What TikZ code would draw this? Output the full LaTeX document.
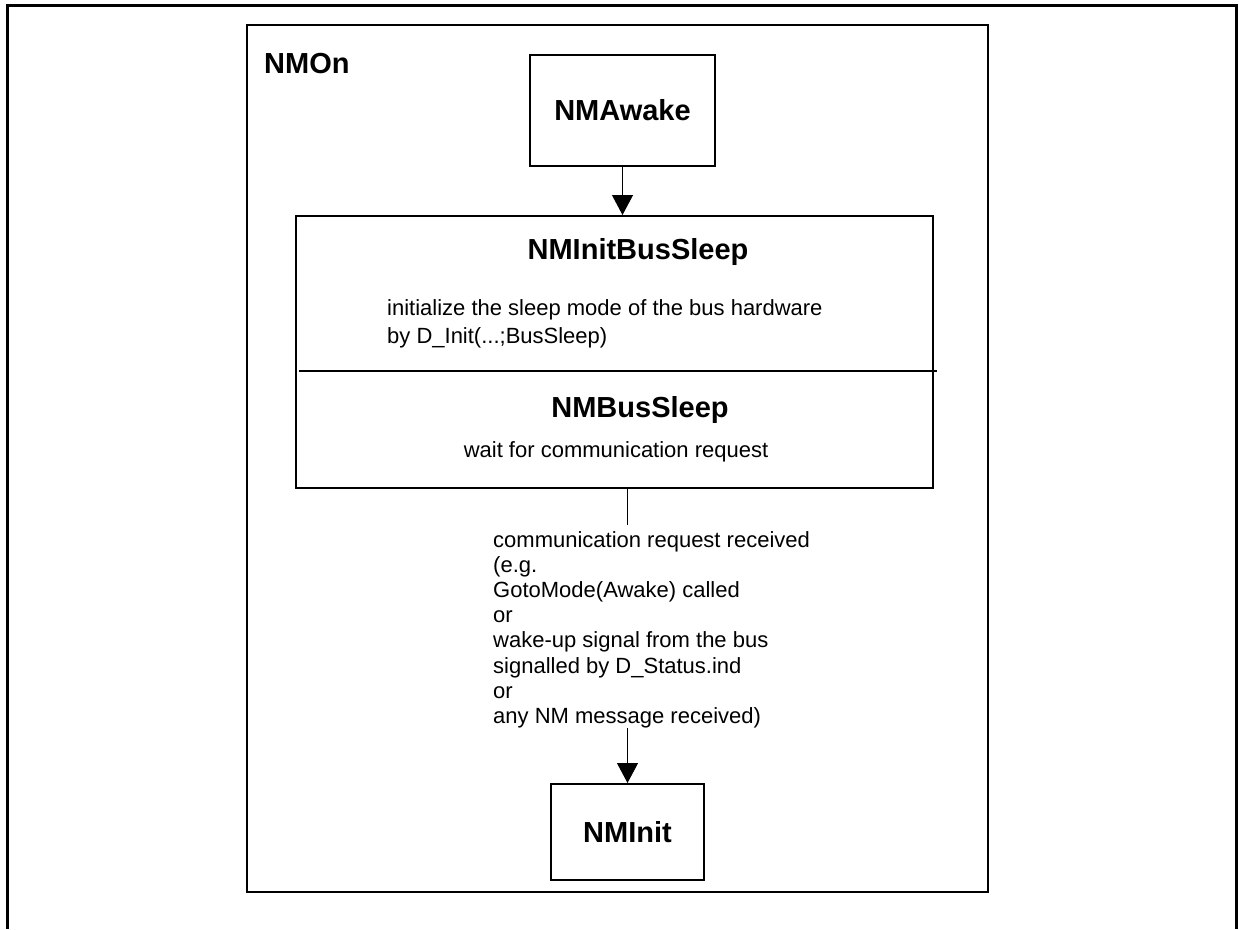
\documentclass[tikz,border=0pt]{standalone}
\usepackage{fontspec}
\setmainfont{Liberation Sans}
\usetikzlibrary{arrows.meta}
\begin{document}
\begin{tikzpicture}[x=1pt, y=-1pt, >={Triangle[length=20pt, width=21pt]},
		statebox/.style={draw, line width=2pt, inner sep=0pt, font=\fontsize{29}{34}\selectfont\bfseries},
		title/.style={inner sep=0pt, anchor=base, font=\fontsize{29}{34}\selectfont\bfseries},
		body/.style={inner sep=0pt, align=left, font=\fontsize{22}{25.2}\selectfont}]
	\useasboundingbox (0,0) rectangle (1239,929);
	\draw[line width=3pt] (7,929) -- (7,5) -- (1236,5) -- (1236,929);
	% superstate NMOn
	\node[draw, line width=2pt, inner sep=0pt, minimum width=741pt, minimum height=867pt] (on) at (617.5,458.5) {};
	\node[title, anchor=base west] (onname) at (264,73) {NMOn};
	\node[statebox, minimum width=185pt, minimum height=111pt] (awake) at (622.5,110.5) {NMAwake};
	% NMInitBusSleep / NMBusSleep
	\node[draw, line width=2pt, inner sep=0pt, minimum width=637pt, minimum height=272pt] (bus) at (614.5,352) {};
	\draw[line width=1.5pt] (299,371) -- (937,371);
	\node[title] (initname) at (638,259) {NMInitBusSleep};
	\node[body, anchor=north west, font=\fontsize{22}{28}\selectfont] (inittext) at (387,299) {initialize the sleep mode of the bus hardware\\by D\_Init(...;BusSleep)};
	\node[title] (sleepname) at (640,417) {NMBusSleep};
	\node[body, anchor=base] (sleeptext) at (616,457) {wait for communication request};
	\node[statebox, minimum width=153pt, minimum height=96pt] (init) at (627.5,832) {NMInit};
	\node[body, anchor=north west] (cond) at (493,531) {communication request received\\(e.g.\\GotoMode(Awake) called\\or\\wake-up signal from the bus\\signalled by D\_Status.ind\\or\\any NM message received)};
	% transitions
	\draw[->, line width=1.2pt] (awake.south) -- (awake.south |- bus.north);
	\draw[line width=1pt] (bus.south -| init.north) -- ([yshift=6pt]cond.north -| init.north);
	\draw[->, line width=1.2pt] (cond.south -| init.north) -- (init.north);
\end{tikzpicture}
\end{document}
